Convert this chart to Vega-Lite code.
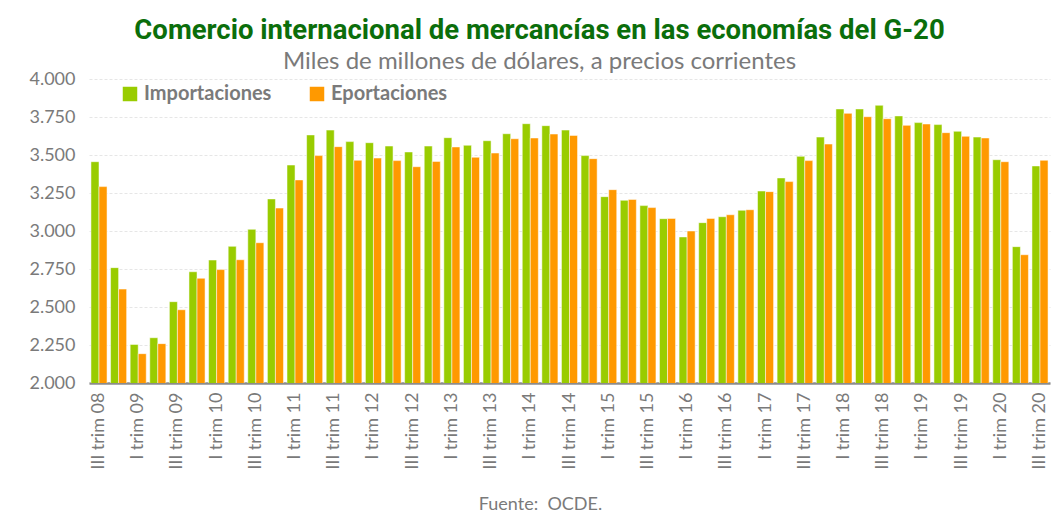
{
  "$schema": "https://vega.github.io/schema/vega-lite/v6.json",
  "width": 961,
  "height": 304,
  "autosize": {"type": "none"},
  "padding": {"left": 89, "top": 79, "right": 3, "bottom": 136},
  "background": "white",
  "title": {
    "text": "Comercio internacional de mercancías en las economías del G-20",
    "subtitle": "Miles de millones de dólares, a precios corrientes",
    "anchor": "middle",
    "dx": -30,
    "offset": -4,
    "font": "Liberation Sans Narrow, Roboto",
    "fontSize": 27.5,
    "fontWeight": "bold",
    "color": "#0B6E0B",
    "subtitleFont": "Lato",
    "subtitleFontSize": 24,
    "subtitleColor": "#7A7A7A",
    "subtitlePadding": 6
  },
  "data": {
    "values": [
      {"p": "III trim 08", "imp": 3456, "exp": 3292},
      {"p": "IV trim 08", "imp": 2759, "exp": 2618},
      {"p": "I trim 09", "imp": 2254, "exp": 2193},
      {"p": "II trim 09", "imp": 2298, "exp": 2259},
      {"p": "III trim 09", "imp": 2535, "exp": 2482},
      {"p": "IV trim 09", "imp": 2732, "exp": 2689},
      {"p": "I trim 10", "imp": 2809, "exp": 2746},
      {"p": "II trim 10", "imp": 2899, "exp": 2811},
      {"p": "III trim 10", "imp": 3011, "exp": 2923},
      {"p": "IV trim 10", "imp": 3211, "exp": 3151},
      {"p": "I trim 11", "imp": 3434, "exp": 3336},
      {"p": "II trim 11", "imp": 3632, "exp": 3496},
      {"p": "III trim 11", "imp": 3664, "exp": 3555},
      {"p": "IV trim 11", "imp": 3588, "exp": 3465},
      {"p": "I trim 12", "imp": 3581, "exp": 3480},
      {"p": "II trim 12", "imp": 3559, "exp": 3463},
      {"p": "III trim 12", "imp": 3520, "exp": 3423},
      {"p": "IV trim 12", "imp": 3559, "exp": 3458},
      {"p": "I trim 13", "imp": 3614, "exp": 3553},
      {"p": "II trim 13", "imp": 3564, "exp": 3485},
      {"p": "III trim 13", "imp": 3594, "exp": 3513},
      {"p": "IV trim 13", "imp": 3640, "exp": 3607},
      {"p": "I trim 14", "imp": 3706, "exp": 3612},
      {"p": "II trim 14", "imp": 3693, "exp": 3638},
      {"p": "III trim 14", "imp": 3664, "exp": 3629},
      {"p": "IV trim 14", "imp": 3496, "exp": 3476},
      {"p": "I trim 15", "imp": 3226, "exp": 3272},
      {"p": "II trim 15", "imp": 3202, "exp": 3208},
      {"p": "III trim 15", "imp": 3167, "exp": 3154},
      {"p": "IV trim 15", "imp": 3081, "exp": 3083},
      {"p": "I trim 16", "imp": 2961, "exp": 3000},
      {"p": "II trim 16", "imp": 3055, "exp": 3083},
      {"p": "III trim 16", "imp": 3094, "exp": 3107},
      {"p": "IV trim 16", "imp": 3136, "exp": 3140},
      {"p": "I trim 17", "imp": 3263, "exp": 3259},
      {"p": "II trim 17", "imp": 3349, "exp": 3325},
      {"p": "III trim 17", "imp": 3491, "exp": 3463},
      {"p": "IV trim 17", "imp": 3618, "exp": 3572},
      {"p": "I trim 18", "imp": 3803, "exp": 3774},
      {"p": "II trim 18", "imp": 3803, "exp": 3752},
      {"p": "III trim 18", "imp": 3827, "exp": 3739},
      {"p": "IV trim 18", "imp": 3757, "exp": 3695},
      {"p": "I trim 19", "imp": 3713, "exp": 3704},
      {"p": "II trim 19", "imp": 3700, "exp": 3647},
      {"p": "III trim 19", "imp": 3656, "exp": 3623},
      {"p": "IV trim 19", "imp": 3618, "exp": 3612},
      {"p": "I trim 20", "imp": 3469, "exp": 3456},
      {"p": "II trim 20", "imp": 2897, "exp": 2844},
      {"p": "III trim 20", "imp": 3428, "exp": 3465}
    ]
  },
  "transform": [
    {"fold": ["imp", "exp"], "as": ["k", "valor"]},
    {"lookup": "k", "from": {"data": {"values": [{"k": "imp", "serie": "Importaciones"}, {"k": "exp", "serie": "Eportaciones"}]}, "key": "k", "fields": ["serie"]}}
  ],
  "mark": {"type": "bar", "clip": true, "stroke": "white", "strokeOpacity": 0.5, "strokeWidth": 1},
  "encoding": {
    "x": {
      "field": "p",
      "type": "nominal",
      "sort": null,
      "scale": {"paddingInner": 0.18, "paddingOuter": 0.1},
      "axis": {
        "title": "Fuente:\u00a0 OCDE.",
        "titleFont": "Lato",
        "titleFontSize": 18,
        "titleFontWeight": "normal",
        "titleColor": "#7A7A7A",
        "titlePadding": 26,
        "titleX": 451,
        "labelExpr": "indexof(datum.label, 'II trim') == 0 || indexof(datum.label, 'IV trim') == 0 ? '' : datum.label",
        "labelAngle": -90,
        "labelAlign": "right",
        "labelBaseline": "middle",
        "labelFont": "Lato",
        "labelFontSize": 18,
        "labelColor": "#7A7A7A",
        "labelPadding": 9,
        "labelOverlap": false,
        "ticks": false,
        "domainColor": "#8C8C8C",
        "domainWidth": 2.5,
        "grid": false
      }
    },
    "xOffset": {"field": "serie", "type": "nominal", "sort": ["Importaciones", "Eportaciones"], "scale": {"paddingInner": 0, "paddingOuter": 0}},
    "y": {
      "field": "valor",
      "type": "quantitative",
      "scale": {"domain": [2000, 4000], "zero": false, "nice": false},
      "axis": {
        "title": null,
        "values": [2000, 2250, 2500, 2750, 3000, 3250, 3500, 3750, 4000],
        "labelExpr": "replace(format(datum.value, ','), ',', '.')",
        "labelFont": "Lato",
        "labelFontSize": 18,
        "labelColor": "#7A7A7A",
        "labelPadding": 14,
        "ticks": false,
        "domain": false,
        "grid": true,
        "gridColor": "#E6E6E6",
        "gridDash": [3, 2],
        "gridWidth": 1
      }
    },
    "color": {
      "field": "serie",
      "type": "nominal",
      "sort": ["Importaciones", "Eportaciones"],
      "scale": {"domain": ["Importaciones", "Eportaciones"], "range": ["#99CC00", "#FF9900"]},
      "legend": {
        "title": null,
        "orient": "none",
        "legendX": 31,
        "legendY": 5,
        "direction": "horizontal",
        "symbolType": "square",
        "symbolSize": 210,
        "symbolStrokeWidth": 0,
        "labelFont": "Lato",
        "labelFontSize": 20,
        "labelFontWeight": "bold",
        "labelColor": "#7A7A7A",
        "labelLimit": 300,
        "labelOffset": 4,
        "columnPadding": 35,
        "symbolOffset": 0
      }
    }
  },
  "config": {"view": {"stroke": null}}
}
